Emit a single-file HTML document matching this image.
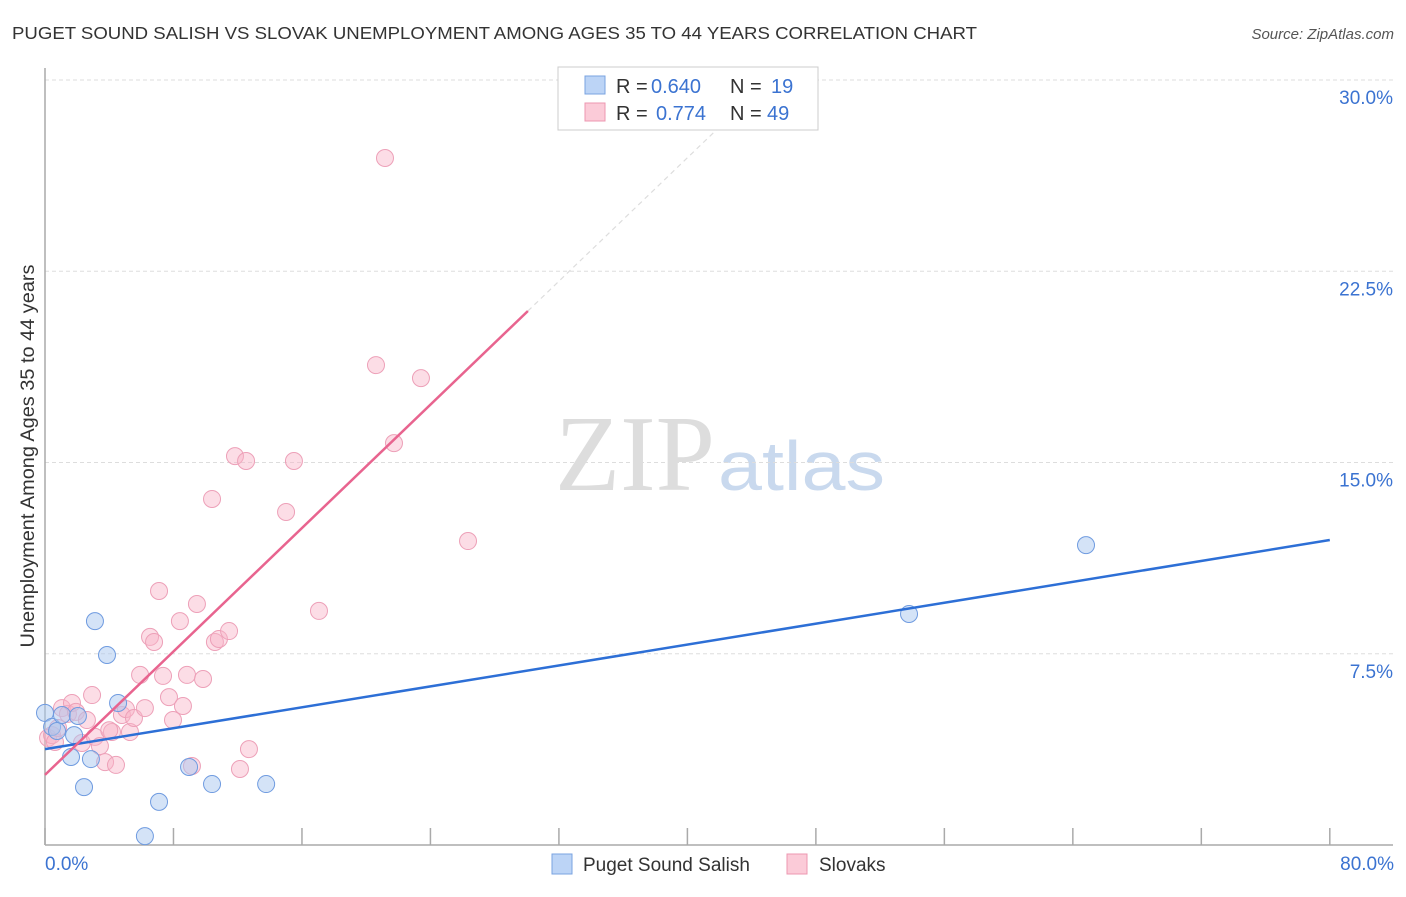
<!DOCTYPE html>
<html><head><meta charset="utf-8"><style>
body{margin:0;background:#fff;font-family:"Liberation Sans",sans-serif;}
</style></head><body>
<svg width="1406" height="892" xmlns="http://www.w3.org/2000/svg">
<text x="12" y="39" font-size="17.5" fill="#333" textLength="965" lengthAdjust="spacingAndGlyphs">PUGET SOUND SALISH VS SLOVAK UNEMPLOYMENT AMONG AGES 35 TO 44 YEARS CORRELATION CHART</text>
<text x="1394" y="39" font-size="15" fill="#555" font-style="italic" text-anchor="end">Source: ZipAtlas.com</text>
<text x="555" y="490" font-size="108" fill="#ddd" font-family="Liberation Serif,serif" textLength="160" lengthAdjust="spacingAndGlyphs">ZIP</text>
<text x="718" y="490" font-size="70" fill="#c9d9ee" textLength="167" lengthAdjust="spacingAndGlyphs">atlas</text>
<g id="grid"></g><g id="axes"></g><g id="marks"></g>
<text transform="translate(34,456) rotate(-90)" font-size="19" fill="#333" text-anchor="middle" textLength="383" lengthAdjust="spacingAndGlyphs">Unemployment Among Ages 35 to 44 years</text>
<rect x="558" y="67" width="260" height="63" fill="#fff" stroke="#ccc"/>
<rect x="585" y="76" width="20" height="18" fill="#bcd4f6" stroke="#7aa3e0"/>
<rect x="585" y="103" width="20" height="18" fill="#fbcbd8" stroke="#ec97b0"/>
<g font-size="20" fill="#333">
<text x="616" y="93">R =</text><text x="651" y="93" fill="#3b73d1">0.640</text><text x="730" y="93">N =</text><text x="771" y="93" fill="#3b73d1">19</text>
<text x="616" y="120">R =</text><text x="656" y="120" fill="#3b73d1">0.774</text><text x="730" y="120">N =</text><text x="767" y="120" fill="#3b73d1">49</text>
</g>
<rect x="552" y="854" width="20" height="20" fill="#bcd4f6" stroke="#7aa3e0"/>
<text x="583" y="871" font-size="19" fill="#333">Puget Sound Salish</text>
<rect x="787" y="854" width="20" height="20" fill="#fbcbd8" stroke="#ec97b0"/>
<text x="819" y="871" font-size="19" fill="#333">Slovaks</text>
</svg>
<script>
const xTicks=[0,8,16,24,32,40,48,56,64,72,80];
const yTicks=[7.5,15,22.5,30];
const yTickLabels=["7.5%","15.0%","22.5%","30.0%"];
const xTickLabels=["0.0%","80.0%"];
const pugetX=[0,0.44,0.75,1.06,1.62,1.81,2.05,2.43,2.86,3.11,3.86,4.55,6.22,7.10,8.97,10.40,13.77,53.80,64.82];
const pugetY=[5.18,4.63,4.47,5.10,3.45,4.31,5.06,2.27,3.37,8.78,7.45,5.57,0.35,1.69,3.06,2.39,2.39,9.06,11.76];
const slovakX=[0.19,0.44,0.62,0.81,1.06,1.43,1.68,1.93,2.30,2.61,2.93,3.11,3.42,3.74,4.17,4.42,4.79,5.04,5.29,5.54,5.92,6.22,6.54,6.79,7.10,7.35,7.72,7.97,8.40,8.59,8.84,9.15,9.46,9.84,10.40,10.58,10.83,11.46,11.83,12.14,12.52,12.70,15.01,15.50,17.06,20.61,21.17,21.73,23.41,26.34,4.0];
const slovakY=[4.20,4.31,4.04,4.59,5.37,5.14,5.57,5.22,4.00,4.90,5.88,4.24,3.88,3.25,4.43,3.14,5.10,5.33,4.43,4.98,6.67,5.37,8.16,7.96,9.96,6.63,5.80,4.90,8.78,5.45,6.67,3.10,9.45,6.51,13.57,7.96,8.08,8.39,15.25,2.98,15.06,3.76,13.06,15.06,9.18,18.82,26.94,15.76,18.31,11.92,4.5];
const pugetLine=[3.76,11.96];
const slovakLine=[2.75,0.605];
const X=v=>45+v*16.06, Y=v=>845-v*25.5;
const NS="http://www.w3.org/2000/svg";
function mk(t,a,p){const e=document.createElementNS(NS,t);for(const k in a)e.setAttribute(k,a[k]);document.getElementById(p).appendChild(e);return e;}
yTicks.forEach((v,i)=>{
 const g=mk('line',{x1:45,x2:1393,y1:Y(v),y2:Y(v),stroke:'#ddd','stroke-dasharray':'4,3'},'grid');
 
 
 const t=mk('text',{x:1393,y:Y(v)+24,'font-size':19,fill:'#3b73d1','text-anchor':'end'},'grid');t.textContent=yTickLabels[i];
 
 
});
const ax=mk('line',{x1:45,x2:1393,y1:845,y2:845,stroke:'#aaa','stroke-width':1.5},'axes');


const ay=mk('line',{x1:45,x2:45,y1:68,y2:845,stroke:'#aaa','stroke-width':1.5},'axes');


xTicks.forEach(v=>{const l=mk('line',{x1:X(v),x2:X(v),y1:828,y2:845,stroke:'#aaa','stroke-width':1.5},'axes');
 
 });
[[0,'start',45],[80,'end',1394]].forEach((d,i)=>{const t=mk('text',{x:d[2],y:870,'font-size':19,fill:'#3b73d1','text-anchor':d[1]},'axes');t.textContent=xTickLabels[i];
 
 });
slovakX.forEach((x,i)=>{const c=mk('circle',{cx:X(x),cy:Y(slovakY[i]),r:8.5,fill:'rgba(248,180,200,0.45)',stroke:'#eda0b8','stroke-width':1},'marks');
 
 });
pugetX.forEach((x,i)=>{const c=mk('circle',{cx:X(x),cy:Y(pugetY[i]),r:8.5,fill:'rgba(170,200,240,0.5)',stroke:'#6f9be0','stroke-width':1},'marks');
 
 });
const bl=mk('line',{x1:X(0),y1:Y(pugetLine[0]),x2:X(80),y2:Y(pugetLine[1]),stroke:'#2d6fd6','stroke-width':2.5},'marks');


const pl=mk('line',{x1:X(0),y1:Y(slovakLine[0]),x2:X(30.07),y2:Y(slovakLine[0]+slovakLine[1]*30.07),stroke:'#e8648f','stroke-width':2.5},'marks');


const pd=mk('line',{x1:X(30.07),y1:Y(slovakLine[0]+slovakLine[1]*30.07),x2:X(42),y2:Y(slovakLine[0]+slovakLine[1]*42),stroke:'#ddd','stroke-width':1.2,'stroke-dasharray':'5,4'},'marks');


</script>
</body></html>
